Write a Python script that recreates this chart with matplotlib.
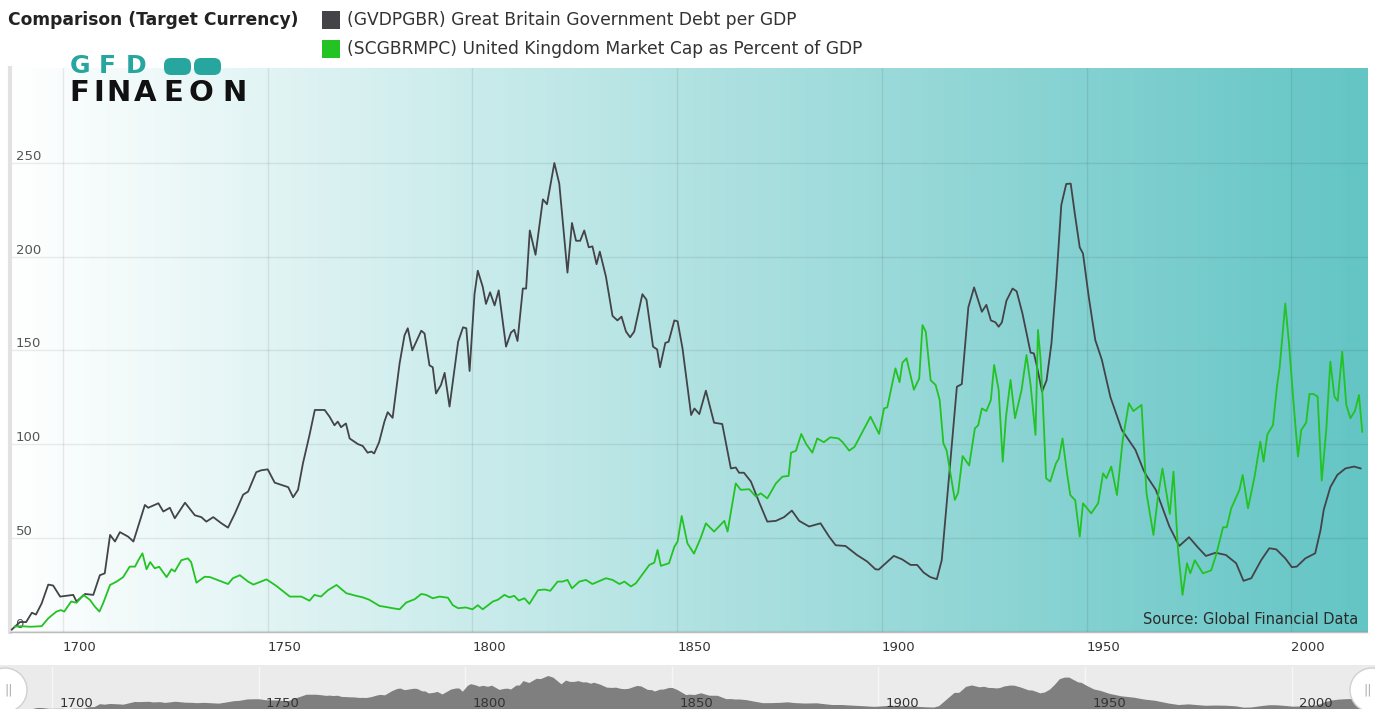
import numpy as np
import matplotlib.pyplot as plt
from matplotlib.colors import LinearSegmentedColormap
from matplotlib.patches import Rectangle, Ellipse, FancyBboxPatch

# Great Britain government debt per GDP (%)
debt_years = [1687.5, 1689.5, 1691, 1692.4, 1693.4, 1694.8, 1696.4, 1697.6, 1699.3, 1702.5,
              1703.3, 1705.4, 1707.4, 1709, 1710.2, 1711.5, 1712.7, 1713.9, 1715.9, 1717.2,
              1720, 1720.8, 1723.3, 1724.5, 1726.1, 1727.3, 1729.8, 1732.2, 1733.8, 1735,
              1736.7, 1738.7, 1740.3, 1742, 1744, 1745.2, 1747.2, 1748.4, 1750, 1751.7,
              1755, 1756.2, 1757.4, 1758.6, 1760.2, 1761.5, 1763.9, 1765.1, 1766.3, 1767.1,
              1767.9, 1769.1, 1770, 1772, 1773.2, 1774.4, 1775.3, 1776, 1777.2, 1778.5,
              1779.3, 1780.5, 1782.2, 1783.4, 1784.2, 1785.3, 1787.5, 1788.3, 1789.5, 1790.3,
              1791.1, 1792.3, 1793.2, 1794.4, 1796.5, 1797.7, 1798.5, 1799.3, 1800.5, 1801.3,
              1802.5, 1803.3, 1804.3, 1805.4, 1806.4, 1808.2, 1809.4, 1810.2, 1811, 1812.3,
              1813.1, 1814, 1815.4, 1817.2, 1818.2, 1820, 1821.2, 1823.2, 1824.3, 1825.3,
              1826.3, 1827.3, 1828.4, 1829.3, 1830.3, 1831.1, 1832.6, 1834.2, 1835.4, 1836.4,
              1837.5, 1838.5, 1839.5, 1841.5, 1842.5, 1844.1, 1845.1, 1845.8, 1847.1, 1847.9,
              1849.3, 1850.1, 1851.3, 1853.4, 1854.2, 1855.4, 1857, 1859, 1861, 1863.1,
              1864.3, 1865.1, 1866.3, 1868, 1870, 1872, 1874.1, 1876.1, 1878, 1879.8,
              1882.2, 1885, 1887.1, 1888.7, 1891.1, 1893.9, 1896.4, 1898.4, 1899.2, 1902.9,
              1904.9, 1907, 1908.6, 1910.2, 1911.8, 1913.4, 1914.6, 1915.8, 1918.3, 1919.5,
              1921.1, 1922.5, 1924.4, 1925.5, 1926.6, 1927.7, 1928.5, 1929.3, 1930.4, 1931.9,
              1932.9, 1934.3, 1936.3, 1937.1, 1937.7, 1939.1, 1940.2, 1941.4, 1942.6, 1943.8,
              1945, 1946.1, 1947.1, 1948.3, 1949.1, 1950.5, 1952.1, 1953.7, 1955.8, 1958.6,
              1961.9, 1963.9, 1964.5, 1966.9, 1970.2, 1972.6, 1975, 1977.1, 1979.1, 1981.5,
              1984, 1986.5, 1988.3, 1990.2, 1992.6, 1994.6, 1996.3, 1998.5, 2000.1, 2001.3,
              2003.4, 2005.8, 2007.1, 2007.9, 2009.5, 2011.2, 2013.2, 2015.3, 2016.9]
debt_vals = [1, 5, 5, 10, 9, 15, 25, 24.5, 18.6, 19.5,
             16, 20, 19.5, 30, 31, 51.5, 48, 53, 50.6, 48,
             67.5, 66, 68.4, 64, 66, 60.4, 68.7, 62, 61, 58.6,
             61, 57.7, 55.4, 63, 73, 74.6, 85, 86, 86.5, 79.4,
             77, 71.6, 75.6, 89.7, 104.8, 118.2, 118.2, 114.6, 110, 112,
             109, 111, 103, 100, 99, 95.4, 96, 95, 101, 112,
             117, 114, 143, 158, 161.8, 150, 160.5, 159, 142, 141,
             127, 131.5, 138, 120, 154.6, 162.3, 161.8, 139, 180, 192.5,
             184, 174.8, 181, 174, 182, 152, 159.5, 161, 155, 183,
             183, 214, 201, 230.6, 228, 250, 239, 191.5, 218, 208.5,
             208.5, 214, 205, 205.5, 196, 202.7, 189.3, 168.4, 166, 168,
             160, 157, 160, 180, 177, 152, 150.5, 141, 154, 154.6,
             166, 165.5, 151, 115.5, 119, 116, 128.5, 111.4, 110.7, 87,
             87.5, 84.7, 84.7, 80, 69, 58.6, 59, 61, 64.5, 59,
             56, 57.7, 50.6, 46, 45.6, 40.8, 37.3, 33.2, 33, 40.3,
             38.5, 35.5, 35.5, 31.4, 29, 27.9, 38, 68, 130.6, 132,
             173, 183.6, 170.6, 174.3, 166, 165, 162.6, 165, 176.5, 183,
             181.5, 169.8, 148.8, 148.4, 143, 128, 134, 153.8, 187.5, 227.6,
             238.8, 239, 223, 205, 201.7, 178.6, 155.5, 145, 125, 107.5,
             96.9, 86, 83.5, 75.5, 56, 45.6, 50.3, 45, 40.3, 42,
             40.8, 36.4, 27, 28.4, 38, 44.4, 43.8, 39, 34.3, 34.6,
             39, 41.7, 54, 65, 77, 83.5, 87, 88, 87]

# United Kingdom market cap as percent of GDP
mcap_years = [1688.2, 1689.8, 1692, 1694.8, 1696.4, 1698.4, 1699.5, 1700.3, 1702, 1703.3,
              1705, 1706.6, 1707.8, 1708.9, 1709.8, 1711.5, 1713.1, 1714.7, 1716.3, 1717.6,
              1718.4, 1719.4, 1720.4, 1721.3, 1722.4, 1723.5, 1725.3, 1726.5, 1727.3, 1728.9,
              1730.5, 1731.3, 1732.6, 1734.6, 1735.9, 1738.3, 1740.3, 1741.5, 1743.2, 1745.2,
              1746.5, 1749.7, 1752.1, 1755.4, 1758.2, 1760.2, 1761.4, 1763, 1764.7, 1766.8,
              1769.2, 1771.6, 1773.2, 1774.8, 1777.3, 1778.5, 1780.5, 1782.2, 1783.8, 1785.9,
              1787.5, 1788.7, 1790.3, 1792, 1794, 1795.2, 1796.5, 1798.4, 1800, 1801.3,
              1802.5, 1805, 1806.2, 1807.8, 1809, 1810.2, 1811.3, 1812.7, 1813.9, 1816,
              1817.6, 1819, 1820.8, 1822, 1823.2, 1824.3, 1826.1, 1827.7, 1829.3, 1832.6,
              1834.2, 1835.9, 1837.1, 1838.7, 1839.9, 1843.2, 1844.4, 1845.2, 1846, 1848,
              1849.3, 1850.1, 1851.1, 1852.5, 1854.1, 1855.7, 1857, 1859, 1861.5, 1862.3,
              1864.3, 1865.5, 1867.6, 1869.2, 1870.4, 1872, 1874.1, 1875.7, 1877.2, 1877.8,
              1879, 1880.3, 1881.5, 1883, 1884.2, 1885.8, 1887.4, 1889.4, 1890.4, 1892,
              1893.3, 1897.2, 1899.3, 1900.5, 1901.3, 1903.3, 1904.3, 1905, 1906, 1907.8,
              1909.1, 1909.9, 1910.7, 1911.9, 1913.1, 1914.1, 1915, 1915.8, 1917.8, 1918.6,
              1919.7, 1921.3, 1922.7, 1923.5, 1924.4, 1925.5, 1926.6, 1927.4, 1928.5, 1929.5,
              1930.3, 1931.4, 1932.5, 1934.1, 1935.3, 1936.3, 1937.5, 1938.1, 1938.7, 1939.3,
              1940.1, 1941.1, 1942.5, 1943.2, 1944.1, 1945.2, 1946, 1947.2, 1948.3, 1949.1,
              1951.1, 1952.8, 1954, 1954.8, 1956, 1957.4, 1958.8, 1960.3, 1961.4, 1963.4,
              1964.6, 1966.3, 1967.4, 1968.5, 1970.3, 1971.2, 1972.3, 1973.4, 1974.5, 1975.3,
              1976.4, 1978.4, 1980.4, 1981.6, 1983.3, 1984.2, 1985.3, 1987.3, 1988.1, 1989.4,
              1991, 1992.4, 1993.2, 1994.1, 1995.5, 1996.5, 1997.1, 1998.5, 1999.4, 2000.4,
              2001.6, 2002.4, 2003.6, 2004.4, 2005.4, 2006.4, 2007.4, 2008.5, 2009.5, 2010.5,
              2011.3, 2012.4, 2013.4, 2014.4, 2015.5, 2016.5, 2017.3]
mcap_vals = [2.6, 2.8, 2.5, 2.8, 7, 10.6, 11.4, 10.6, 16, 15.3,
             19.5, 16.8, 13.2, 10.6, 15, 24.8, 26.6, 29, 34.6, 34.6,
             38, 41.7, 33.2, 37, 33.7, 34.5, 29, 33.2, 32, 38,
             39, 37, 26, 29.2, 29, 27, 25.3, 28.4, 30, 26.6,
             25, 27.8, 24.3, 18.6, 18.6, 16.4, 19.5, 18.6, 22, 24.8,
             20.4, 19, 18.2, 16.9, 13.6, 13.2, 12.4, 11.8, 15.4, 17.2,
             20, 19.5, 17.7, 18.6, 18, 14, 12.4, 12.8, 11.8, 14,
             11.8, 16, 16.9, 19.5, 18.2, 19, 16.5, 17.7, 14.7, 22,
             22.4, 21.7, 26.6, 26.6, 27.5, 23, 26.6, 27.5, 25.3, 28.4,
             27.5, 25.3, 26.6, 24, 25.7, 35.5, 36.7, 43.5, 35, 36.4,
             45.2, 48, 61.6, 47, 41.5, 49.7, 57.7, 53.3, 59, 53.3,
             79, 75.6, 75.9, 72, 73.7, 71, 79, 82.6, 83, 95.4,
             96.4, 105.4, 100, 95.4, 103, 101, 103.6, 103, 101, 96.5,
             98.5, 114.6, 105.4, 119, 119.6, 140.4, 133, 143.4, 145.8, 129,
             135, 163.5, 160, 134, 131.6, 123.5, 100.4, 96.5, 70.2, 74,
             93.6, 88.6, 108.4, 110, 119, 117.6, 123.5, 142.2, 128.9, 90.6,
             114.6, 134.2, 113.8, 128.9, 147.5, 131.6, 104.9, 160.9, 146.5, 121.8,
             81.7, 80, 89.7, 92.3, 103, 84.4, 72.8, 70, 50.6, 68.4,
             63, 68.4, 84.4, 81.7, 88, 72.8, 102.2, 121.8, 117.6, 120.9,
             74, 51.5, 72, 87, 62.7, 85.3, 43.5, 19.5, 36.4, 31,
             38, 31, 32.6, 40.8, 55.6, 55.6, 65.7, 75.5, 83.5, 65.7,
             82.6, 101.3, 90.6, 105, 110.2, 131.5, 140.4, 175, 153.8, 125.3,
             93.3, 107.5, 111.4, 126.7, 126.7, 125.3, 80.5, 107.5, 144, 125.3,
             123, 149.3, 120.9, 113.8, 117.6, 126.2, 106.6]

x_ticks = [1700, 1750, 1800, 1850, 1900, 1950, 2000]
y_ticks = [0, 50, 100, 150, 200, 250]

title = 'Comparison (Target Currency)'
series_names = ['(GVDPGBR) Great Britain Government Debt per GDP',
                '(SCGBRMPC) United Kingdom Market Cap as Percent of GDP']
debt_color = '#434348'
mcap_color = '#22c322'

W, H = 1375, 709
fig = plt.figure(figsize=(W / 100, H / 100), dpi=100)


def box(l, t, r, b):
    # pixel box (top-left origin) -> figure fraction rect
    return [l / W, 1 - b / H, (r - l) / W, (b - t) / H]


# main plot, background fades from white to teal
ax = fig.add_axes(box(10, 68, 1368, 632))
xmin, xmax = 1687.06, 2018.7
ymin, ymax = -0.3, 300.7
bg_cmap = LinearSegmentedColormap.from_list('bg', ['#ffffff', '#64c5c5'])
ax.imshow(np.linspace(0, 1, 1358)[None, :], cmap=bg_cmap, extent=[xmin, xmax, ymin, ymax],
          aspect='auto', interpolation='nearest', zorder=0)

ax.plot(debt_years, debt_vals, color=debt_color, lw=1.3, zorder=3)
ax.plot(mcap_years, mcap_vals, color=mcap_color, lw=1.3, zorder=4)

ax.set_xlim(xmin, xmax)
ax.set_ylim(ymin, ymax)
ax.set_xticks(x_ticks)
ax.set_xticklabels([str(v) for v in x_ticks], ha='left', color='#333333', fontsize=9.5)
ax.set_yticks(y_ticks)
ax.set_yticklabels([str(v) for v in y_ticks], ha='left', va='bottom', color='#555555', fontsize=9.5)
ax.tick_params(axis='x', length=0, pad=6.5)
ax.tick_params(axis='y', length=0, pad=-4)
ax.grid(True, color='black', alpha=0.08, lw=1)
for s in ['top', 'right']:
    ax.spines[s].set_visible(False)
ax.spines['left'].set_color('#e2e2e2')
ax.spines['left'].set_linewidth(3)
ax.spines['bottom'].set_color('#bbbbbb')
ax.spines['bottom'].set_linestyle((0, (1, 1)))
ax.spines['bottom'].set_linewidth(1)

ax.text(0.9925, 0.022, 'Source: Global Financial Data', transform=ax.transAxes,
        ha='right', va='center', fontsize=10.5, color='#2b2b2b', zorder=6)

# title and legend
fig.text(8 / W, 1 - 20 / H, title, fontsize=12.3, fontweight='bold', color='#222222',
         ha='left', va='center')
for i, (name, col) in enumerate(zip(series_names, [debt_color, mcap_color])):
    yc = 20 + i * 29
    fig.patches.append(Rectangle((322 / W, 1 - (yc + 9) / H), 18 / W, 18 / H,
                                 transform=fig.transFigure, facecolor=col, edgecolor='none'))
    fig.text(347 / W, 1 - yc / H, name, fontsize=12.3, color='#333333', ha='left', va='center')

# logo
lg = fig.add_axes(box(66, 50, 258, 108))
lg.set_xlim(0, 192)
lg.set_ylim(58, 0)
lg.axis('off')
teal = '#27a59f'
for ch, xp in zip('GFD', [4, 33, 60]):
    lg.text(xp, 16, ch, fontsize=18, fontweight='bold', color=teal, ha='left', va='center')
for xp in [98, 128]:
    lg.add_patch(FancyBboxPatch((xp, 8), 27, 17, boxstyle='round,pad=0,rounding_size=7',
                                facecolor=teal, edgecolor='none'))
for ch, xp in zip('FINAEON', [3, 27, 40, 68, 97, 123, 156]):
    lg.text(xp, 43, ch, fontsize=21, fontweight='heavy', color='#111111', ha='left', va='center')

# navigator
fig.patches.append(Rectangle((0, 0), 1, 1 - 665 / H, transform=fig.transFigure,
                             facecolor='#ebebeb', edgecolor='none', zorder=-1))
nav = fig.add_axes(box(0, 667, 1375, 711))
nav.patch.set_alpha(0)
nav.fill_between(debt_years, debt_vals, 0, color='#7f7f7f', lw=0)
nav.set_xlim(1687.42, 2020.2)
nav.set_ylim(0, 310)
nav.set_xticks(x_ticks)
nav.set_xticklabels([])
nav.set_yticks([])
nav.tick_params(length=0)
nav.grid(True, axis='x', color='#f6f6f6', lw=1)
nav.set_axisbelow(True)
for s in nav.spines.values():
    s.set_visible(False)
for v in x_ticks:
    nav.text(v + 1.8, 56, str(v), fontsize=9.5, color='#333333', ha='left', va='center')

for xc in [5, 1372]:
    fig.patches.append(Ellipse((xc / W, 1 - 690 / H), 44 / W, 44 / H, transform=fig.transFigure,
                               facecolor='white', edgecolor='#d0d0d0', lw=1, zorder=5))
    fig.text(xc / W + (4 / W if xc < 100 else -4 / W), 1 - 690 / H, '||', fontsize=9,
             color='#aaaaaa', ha='center', va='center', zorder=6)

fig.savefig('out.png', dpi=100)
